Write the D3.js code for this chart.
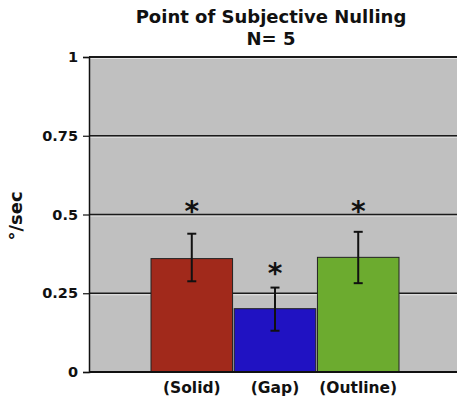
<!DOCTYPE html>
<html>
<head>
<meta charset="utf-8">
<script src="https://cdn.jsdelivr.net/npm/d3@7"></script>
<style>
  body { margin: 0; background: #fff; }
  text { font-family: "DejaVu Sans", Verdana, sans-serif; font-weight: bold; }
</style>
</head>
<body>
<div id="chart"></div>
<script>
// Data
const categories = ['(Solid)', '(Gap)', '(Outline)'];
const means = [0.36, 0.201, 0.364];
const errLow = [0.288, 0.131, 0.282];
const errHigh = [0.439, 0.268, 0.445];
const starLevels = [0.524, 0.326, 0.524];
const barColors = ['#a1291b', '#2012c2', '#6cab2f'];
const yTicks = [0, 0.25, 0.5, 0.75, 1];
const yTickLabels = ['0', '0.25', '0.5', '0.75', '1'];

const width = 457, height = 399;
const plot = { left: 89, right: 457, top: 57, bottom: 372 };

const svg = d3.select('#chart')
  .append('svg')
  .attr('width', width)
  .attr('height', height);

const y = d3.scaleLinear().domain([0, 1]).range([plot.bottom, plot.top]);
const x = d3.scaleBand()
  .domain(categories)
  .range([151, 399])
  .paddingInner(0.02);

// Plot background
svg.append('rect')
  .attr('x', plot.left)
  .attr('y', plot.top)
  .attr('width', plot.right - plot.left)
  .attr('height', plot.bottom - plot.top)
  .attr('fill', '#c0c0c0');

// Gridlines with a light edge below
const grid = svg.append('g');
yTicks.slice(1).forEach(t => {
  grid.append('line')
    .attr('x1', plot.left).attr('x2', plot.right)
    .attr('y1', y(t) + 1.5).attr('y2', y(t) + 1.5)
    .attr('stroke', '#e4e4e4').attr('stroke-width', 1);
  grid.append('line')
    .attr('x1', plot.left).attr('x2', plot.right)
    .attr('y1', y(t)).attr('y2', y(t))
    .attr('stroke', '#1a1a1a').attr('stroke-width', t === 1 ? 2 : 1.4);
});

// Bars
svg.append('g')
  .selectAll('rect')
  .data(categories)
  .join('rect')
  .attr('x', d => x(d))
  .attr('y', (d, i) => y(means[i]))
  .attr('width', x.bandwidth())
  .attr('height', (d, i) => y(0) - y(means[i]))
  .attr('fill', (d, i) => barColors[i])
  .attr('stroke', '#222')
  .attr('stroke-width', 1);

// Error bars
const err = svg.append('g')
  .attr('stroke', '#111')
  .attr('stroke-width', 2);

categories.forEach((c, i) => {
  const cx = x(c) + x.bandwidth() / 2;
  err.append('line')
    .attr('x1', cx).attr('x2', cx)
    .attr('y1', y(errLow[i])).attr('y2', y(errHigh[i]));
  [errLow[i], errHigh[i]].forEach(v => {
    err.append('line')
      .attr('x1', cx - 4.5).attr('x2', cx + 4.5)
      .attr('y1', y(v)).attr('y2', y(v));
  });
});

// Significance stars
svg.append('g')
  .selectAll('text')
  .data(categories)
  .join('text')
  .attr('x', d => x(d) + x.bandwidth() / 2)
  .attr('y', (d, i) => y(starLevels[i]) + 14)
  .attr('text-anchor', 'middle')
  .attr('font-size', 28)
  .attr('fill', '#111')
  .text('*');

// Y axis
const yAxis = svg.append('g')
  .attr('transform', `translate(${plot.left},0)`)
  .call(d3.axisLeft(y)
    .tickValues(yTicks)
    .tickFormat((d, i) => yTickLabels[i])
    .tickSize(6)
    .tickPadding(5));

yAxis.select('.domain').attr('stroke', '#111').attr('stroke-width', 1.5);
yAxis.selectAll('.tick line').attr('stroke', '#111').attr('stroke-width', 1.2);
yAxis.selectAll('.tick text')
  .attr('font-size', 14.5)
  .attr('font-family', '"DejaVu Sans", Verdana, sans-serif')
  .attr('font-weight', 'bold')
  .attr('fill', '#111');

// Zero baseline
svg.append('line')
  .attr('x1', plot.left).attr('x2', plot.right)
  .attr('y1', y(0)).attr('y2', y(0))
  .attr('stroke', '#111').attr('stroke-width', 2);

// X category labels
svg.append('g')
  .selectAll('text')
  .data(categories)
  .join('text')
  .attr('x', d => x(d) + x.bandwidth() / 2)
  .attr('y', 393)
  .attr('text-anchor', 'middle')
  .attr('font-size', 15.5)
  .attr('fill', '#111')
  .text(d => d);

// Title
const title = svg.append('text')
  .attr('text-anchor', 'middle')
  .attr('font-size', 18)
  .attr('fill', '#111');
title.append('tspan').attr('x', 271).attr('y', 23).text('Point of Subjective Nulling');
title.append('tspan').attr('x', 271).attr('y', 45).text('N= 5');

// Y axis label
svg.append('text')
  .attr('transform', 'translate(22,216) rotate(-90)')
  .attr('text-anchor', 'middle')
  .attr('font-size', 18)
  .attr('fill', '#111')
  .text('°/sec');
</script>
</body>
</html>
